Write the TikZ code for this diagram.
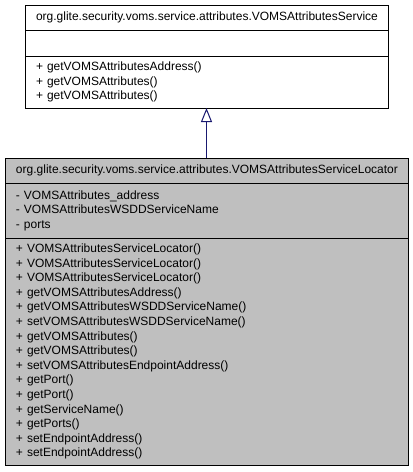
\documentclass[tikz,border=0pt]{standalone}
\usepackage{fontspec}
\setmainfont{Liberation Sans}
\usepackage{xcolor}
\usetikzlibrary{positioning,arrows.meta}
\definecolor{classgray}{RGB}{191,191,191}
\definecolor{edgeblue}{RGB}{25,25,112}

\begin{document}
\begin{tikzpicture}[x=1pt, y=-1pt, node distance=0pt,
    part/.style={draw, line width=1pt, rectangle, outer sep=0pt, inner xsep=11pt, inner ysep=0pt,
                 font=\fontsize{12}{14.6}\selectfont, align=left},
    svcpart/.style={part, text width=341pt},
    locpart/.style={part, text width=381pt, fill=classgray},
    title/.style={align=center},
    inherit/.style={edgeblue, line width=1pt, -{Triangle[open, length=14pt, width=11pt]}}]
    \useasboundingbox (0,0) rectangle (413,472);

    % Interface
    \node[svcpart, title, minimum height=25pt, anchor=north] (svcTitle) at (206.5,5)
        {org.glite.security.voms.service.attributes.VOMSAttributesService};
    \node[svcpart, minimum height=26pt, below=of svcTitle] (svcAttr) {};
    \node[svcpart, minimum height=52pt, below=of svcAttr] (svcOps)
        {+ getVOMSAttributesAddress()\\+ getVOMSAttributes()\\+ getVOMSAttributes()};

    % Locator
    \node[locpart, title, minimum height=25pt, below=50pt of svcOps] (locTitle)
        {org.glite.security.voms.service.attributes.VOMSAttributesServiceLocator};
    \node[locpart, minimum height=55pt, below=of locTitle] (locAttr)
        {- VOMSAttributes\_address\\- VOMSAttributesWSDDServiceName\\- ports};
    \node[locpart, minimum height=227pt, below=of locAttr] (locOps)
        {+ VOMSAttributesServiceLocator()\\+ VOMSAttributesServiceLocator()\\+ VOMSAttributesServiceLocator()\\
         + getVOMSAttributesAddress()\\+ getVOMSAttributesWSDDServiceName()\\+ setVOMSAttributesWSDDServiceName()\\
         + getVOMSAttributes()\\+ getVOMSAttributes()\\+ setVOMSAttributesEndpointAddress()\\
         + getPort()\\+ getPort()\\+ getServiceName()\\+ getPorts()\\
         + setEndpointAddress()\\+ setEndpointAddress()};

    % Generalization
    \draw[inherit] (locTitle.north) -- (svcOps.south);
\end{tikzpicture}
\end{document}
